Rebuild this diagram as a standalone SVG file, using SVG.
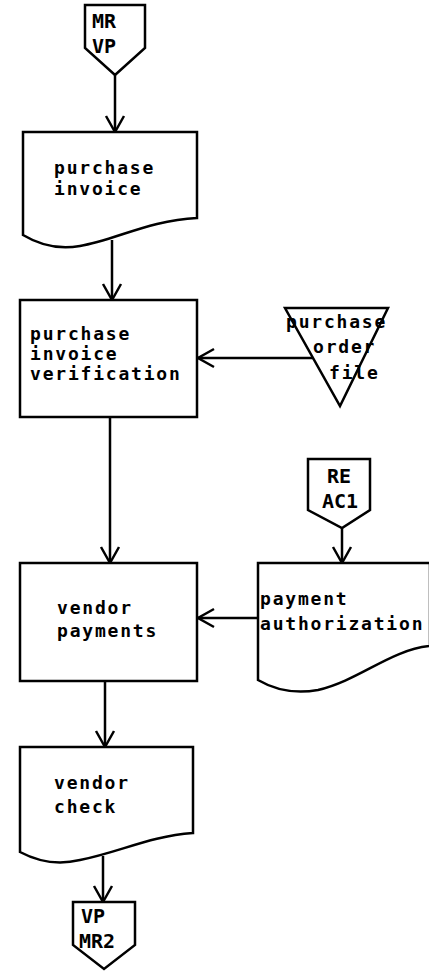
<svg xmlns="http://www.w3.org/2000/svg" width="429" height="972" viewBox="0 0 429 972">
  <style>
    .shape { fill: #ffffff; stroke: #000000; stroke-width: 2.5; stroke-linejoin: miter; }
    .wire { fill: none; stroke: #000000; stroke-width: 2.5; }
    .label { font-family: "DejaVu Sans Mono", "Liberation Mono", monospace; font-size: 18px; font-weight: bold; letter-spacing: 1.8px; fill: #000000; }
    .tag { font-family: "DejaVu Sans Mono", "Liberation Mono", monospace; font-size: 20px; font-weight: bold; fill: #000000; }
  </style>
  <defs>
    <marker id="open-arrow" markerUnits="userSpaceOnUse" markerWidth="22" markerHeight="24" viewBox="-18 -12 22 24" refX="0" refY="0" orient="auto">
      <path d="M -16 -9 L 0 0 L -16 9" fill="none" stroke="#000000" stroke-width="2.5"/>
    </marker>
  </defs>
  <rect x="0" y="0" width="429" height="972" fill="#ffffff"/>

  <!-- connectors -->
  <g id="connectors">
    <line class="wire" x1="115" y1="75" x2="115" y2="132" marker-end="url(#open-arrow)"/>
    <line class="wire" x1="112" y1="240" x2="112" y2="300" marker-end="url(#open-arrow)"/>
    <line class="wire" x1="313" y1="358" x2="198" y2="358" marker-end="url(#open-arrow)"/>
    <line class="wire" x1="110" y1="417" x2="110" y2="563" marker-end="url(#open-arrow)"/>
    <line class="wire" x1="342" y1="528" x2="342" y2="563" marker-end="url(#open-arrow)"/>
    <line class="wire" x1="258" y1="618" x2="198" y2="618" marker-end="url(#open-arrow)"/>
    <line class="wire" x1="105" y1="681" x2="105" y2="747" marker-end="url(#open-arrow)"/>
    <line class="wire" x1="103" y1="856" x2="103" y2="902" marker-end="url(#open-arrow)"/>
  </g>

  <!-- off-page connector: MR VP -->
  <g id="offpage-mr-vp">
    <path class="shape" d="M 85 5 H 145 V 48 L 115 75 L 85 48 Z"/>
    <text class="tag" x="92" y="28">MR</text>
    <text class="tag" x="92" y="53">VP</text>
  </g>

  <!-- document: purchase invoice -->
  <g id="purchase-invoice">
    <path class="shape" d="M 23 132 H 197 V 218 C 150 220 115 240 80 246 C 58 250 38 244 23 235 Z"/>
    <text class="label" x="54" y="174">purchase</text>
    <text class="label" x="54" y="195">invoice</text>
  </g>

  <!-- process: purchase invoice verification -->
  <g id="purchase-invoice-verification">
    <rect class="shape" x="20" y="300" width="177" height="117"/>
    <text class="label" x="30" y="340">purchase</text>
    <text class="label" x="30" y="360">invoice</text>
    <text class="label" x="30" y="380">verification</text>
  </g>

  <!-- file: purchase order file -->
  <g id="purchase-order-file">
    <path class="shape" d="M 285 308 H 388 L 340 406 Z"/>
    <text class="label" x="286" y="328">purchase</text>
    <text class="label" x="313" y="353">order</text>
    <text class="label" x="329" y="379">file</text>
  </g>

  <!-- off-page connector: RE AC1 -->
  <g id="offpage-re-ac1">
    <path class="shape" d="M 308 459 H 370 V 510 L 342 528 L 308 510 Z"/>
    <text class="tag" x="327" y="483">RE</text>
    <text class="tag" x="322" y="508">AC1</text>
  </g>

  <!-- process: vendor payments -->
  <g id="vendor-payments">
    <rect class="shape" x="20" y="563" width="177" height="118"/>
    <text class="label" x="57" y="614">vendor</text>
    <text class="label" x="57" y="637">payments</text>
  </g>

  <!-- document: payment authorization -->
  <g id="payment-authorization">
    <path class="shape" d="M 258 563 H 430 V 646 C 390 650 360 680 318 690 C 295 694 275 690 258 680 Z"/>
    <text class="label" x="260" y="605">payment</text>
    <text class="label" x="260" y="630">authorization</text>
  </g>

  <!-- document: vendor check -->
  <g id="vendor-check">
    <path class="shape" d="M 20 747 H 193 V 833 C 150 836 120 852 80 860 C 55 866 35 860 20 852 Z"/>
    <text class="label" x="54" y="789">vendor</text>
    <text class="label" x="54" y="813">check</text>
  </g>

  <!-- off-page connector: VP MR2 -->
  <g id="offpage-vp-mr2">
    <path class="shape" d="M 73 902 H 135 V 945 L 104 969 L 73 945 Z"/>
    <text class="tag" x="81" y="923">VP</text>
    <text class="tag" x="79" y="948">MR2</text>
  </g>
</svg>
